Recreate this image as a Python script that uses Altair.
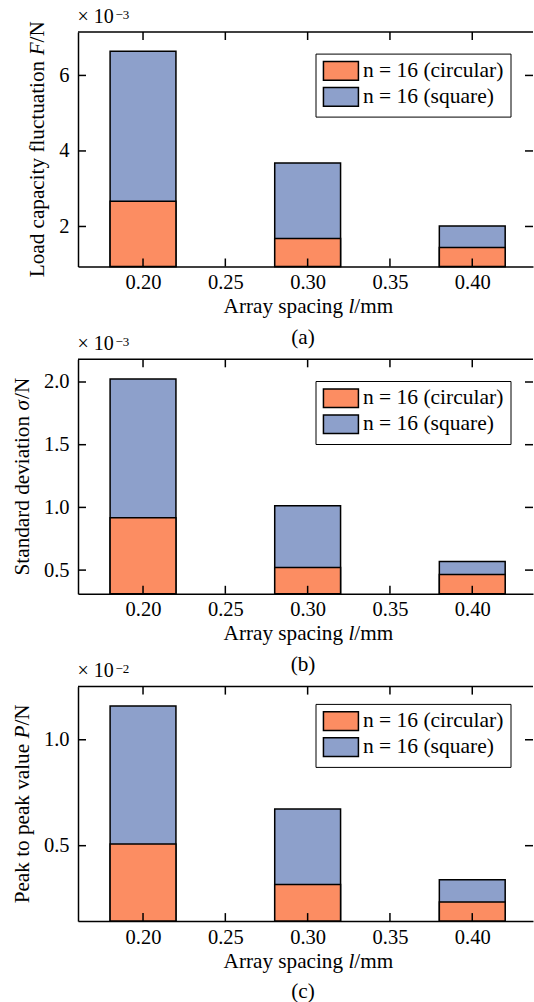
import altair as alt
import pandas as pd

# ---- data ----
spacing = [0.20, 0.30, 0.40]
series_names = ["n = 16 (circular)", "n = 16 (square)"]
F_circular = [2.67, 1.68, 1.44]
F_square = [6.64, 3.68, 2.01]
sd_circular = [0.917, 0.521, 0.465]
sd_square = [2.024, 1.013, 0.569]
pp_circular = [0.508, 0.317, 0.234]
pp_square = [1.159, 0.673, 0.339]

x_ticks = [0.20, 0.25, 0.30, 0.35, 0.40]
yticks_a = [2, 4, 6]
yticks_b = [0.5, 1.0, 1.5, 2.0]
yticks_c = [0.5, 1.0]
# titles as (text, italic) pieces
ytitles = [
    [("Load capacity fluctuation ", False), ("F", True), ("/N", False)],
    [("Standard deviation ", False), ("σ", True), ("/N", False)],
    [("Peak to peak value ", False), ("P", True), ("/N", False)],
]
x_title = [("Array spacing ", False), ("l", True), ("/mm", False)]
exponents = ["−3", "−3", "−2"]
panel_labels = ["(a)", "(b)", "(c)"]

# ---- styling ----
FONT = "Liberation Serif"
W, H = 455, 234.5
XDOM = [0.1605, 0.4369]
HALF = 0.02
ORANGE = "#FC8D62"
BLUE = "#8DA0CB"
TICK = 8
LW = 1.5
TFS = 21.2  # title font size

# Times / Liberation Serif advance widths (per 1000 em)
REG = {"A": 722, "r": 333, "a": 444, "y": 500, " ": 250, "s": 389, "p": 500,
       "c": 444, "i": 278, "n": 500, "g": 500, "/": 278, "m": 778, "L": 611,
       "o": 500, "d": 500, "t": 278, "f": 333, "l": 278, "u": 500, "N": 722,
       "S": 556, "e": 444, "v": 500, "P": 556, "k": 500}
ITA = {"F": 611, "P": 611, "l": 278, "σ": 550}


def text_w(s, italic):
    tab = ITA if italic else REG
    return sum(tab.get(ch, 500) for ch in s) / 1000 * TFS


def title_marks(pieces, data, center, base, vertical):
    total = sum(text_w(s, it) for s, it in pieces)
    pos = -total / 2
    out = []
    for s, it in pieces:
        off = center + pos if not vertical else center - pos
        props = dict(text=s.strip(), font=FONT, fontSize=TFS, color="black",
                     align="left", baseline="alphabetic",
                     fontStyle="italic" if it else "normal")
        if vertical:
            props["angle"] = 270
            enc = dict(x=alt.value(base), y=alt.value(off))
        else:
            enc = dict(x=alt.value(off), y=alt.value(base))
        out.append(alt.Chart(data).mark_text(**props).encode(**enc))
        pos += text_w(s, it)
    return out


def panel(circ, sq, yticks, ydom, yfmt, ytitle, exp_txt, label, ytitle_x, legend_y, anchor=False):
    df = pd.DataFrame({
        "spacing": spacing * 2,
        "value": circ + sq,
        "series": [series_names[0]] * len(spacing) + [series_names[1]] * len(spacing),
    })
    xs = alt.Scale(domain=XDOM, nice=False, zero=False)
    ys = alt.Scale(domain=ydom, nice=False, zero=False)
    color = alt.Color(
        "series:N",
        scale=alt.Scale(domain=series_names, range=[ORANGE, BLUE]),
        legend=alt.Legend(
            orient="none", legendX=237.5, legendY=legend_y, title=None,
            symbolType="M-1,-1H2.76V1H-1Z", symbolSize=346,
            symbolStrokeColor="black", symbolStrokeWidth=LW, symbolOpacity=1,
            labelFont=FONT, labelFontSize=21.5, labelColor="black", labelOffset=19.4,
            labelLimit=0, padding=6.5, strokeColor="black", fillColor="white",
            rowPadding=0,
        ),
    )
    base = alt.Chart(df).transform_calculate(
        x0=f"datum.spacing - {HALF}", x1=f"datum.spacing + {HALF}"
    )
    xaxis = alt.Axis(
        values=x_ticks, format=".2f", ticks=False, tickSize=0, labelPadding=6,
        grid=False, domainColor="black", domainWidth=LW, title=None,
    )
    yaxis = alt.Axis(
        values=yticks, format=yfmt, ticks=False, tickSize=0, labelPadding=9,
        grid=False, domainColor="black", domainWidth=LW, title=None,
    )

    def bars(name):
        return base.transform_filter(alt.datum.series == name).mark_bar(
            stroke="black", strokeWidth=LW, opacity=1
        ).encode(
            x=alt.X("x0:Q", scale=xs, axis=xaxis),
            x2="x1:Q",
            y=alt.Y("value:Q", scale=ys, axis=yaxis),
            y2=alt.datum(ydom[0]),
            color=color,
        )

    xt = pd.DataFrame({"t": x_ticks})
    yt = pd.DataFrame({"t": yticks})
    rule = dict(color="black", strokeWidth=LW)
    bot = alt.Chart(xt).mark_rule(**rule).encode(
        x=alt.X("t:Q", scale=xs, axis=xaxis), y=alt.value(H), y2=alt.value(H - TICK))
    top = alt.Chart(xt).mark_rule(**rule).encode(
        x=alt.X("t:Q", scale=xs, axis=xaxis), y=alt.value(0), y2=alt.value(TICK))
    left = alt.Chart(yt).mark_rule(**rule).encode(
        y=alt.Y("t:Q", scale=ys, axis=yaxis), x=alt.value(0), x2=alt.value(TICK))
    right = alt.Chart(yt).mark_rule(**rule).encode(
        y=alt.Y("t:Q", scale=ys, axis=yaxis), x=alt.value(W - TICK), x2=alt.value(W))

    one = pd.DataFrame({"s": ["× 10"], "e": [exp_txt], "p": [label]})
    spine = alt.Chart(one).mark_rule(**rule).encode(
        x=alt.value(0), x2=alt.value(W), y=alt.value(0))
    txt = dict(font=FONT, color="black", align="left", baseline="alphabetic")
    t10 = alt.Chart(one).mark_text(fontSize=20, **txt).encode(
        text="s:N", x=alt.value(-0.5), y=alt.value(-9.5))
    texp = alt.Chart(one).mark_text(fontSize=13, **txt).encode(
        text="e:N", x=alt.value(37.5), y=alt.value(-13.5))
    tlab = alt.Chart(one).mark_text(fontSize=TFS, font=FONT, color="black",
                                    align="center", baseline="alphabetic").encode(
        text="p:N", x=alt.value(225), y=alt.value(H + 77))

    layers = [bars(series_names[1]), bars(series_names[0]),
              bot, top, left, right, spine, t10, texp, tlab]
    layers += title_marks(x_title, one, 230.4, H + 46.5, vertical=False)
    layers += title_marks(ytitle, one, H / 2, ytitle_x, vertical=True)
    if anchor:
        layers.append(alt.Chart(one).mark_rule(opacity=0, strokeWidth=0.01).encode(
            x=alt.value(-77.5), x2=alt.value(-77.5), y=alt.value(-31.7), y2=alt.value(-31.7)))
    return alt.layer(*layers).properties(width=W, height=H)


pa = panel(F_circular, F_square, yticks_a, [0.94, 7.15], ".0f", ytitles[0],
           exponents[0], panel_labels[0], -34.2, 21.6, anchor=True)
pb = panel(sd_circular, sd_square, yticks_b, [0.311, 2.181], ".1f", ytitles[1],
           exponents[1], panel_labels[1], -49.2, 21.7)
pc = panel(pp_circular, pp_square, yticks_c, [0.144, 1.251], ".1f", ytitles[2],
           exponents[2], panel_labels[2], -49.2, 17.3)

chart = alt.vconcat(pa, pb, pc, spacing=92.3, bounds="flush").resolve_scale(
    x="independent", y="independent", color="independent"
).resolve_legend(color="independent").properties(
    padding=0, background="white"
).configure_view(stroke=None).configure_axis(
    labelFont=FONT, titleFont=FONT, labelFontSize=20.5, titleFontSize=TFS,
    labelColor="black", titleColor="black", titleFontWeight="normal",
).configure_legend(labelFont=FONT, labelFontSize=21.5, labelColor="black")

chart.save("out.html", embed_options={"renderer": "svg", "actions": False})
